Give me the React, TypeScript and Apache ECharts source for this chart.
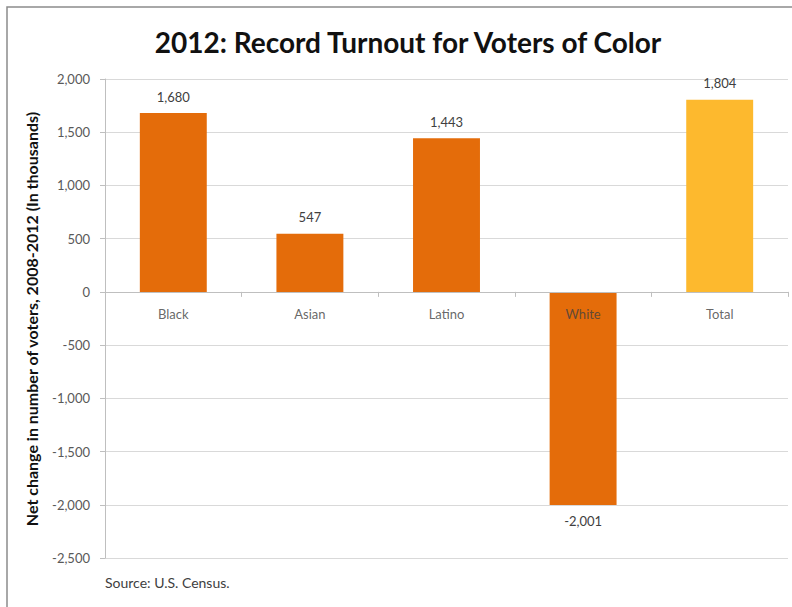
import React, { useEffect, useRef } from "react";
import * as echarts from "echarts";

const categories = ["Black", "Asian", "Latino", "White", "Total"];
const values = [1680, 547, 1443, -2001, 1804];
const barColors = ["#E46C0A", "#E46C0A", "#E46C0A", "#E46C0A", "#FDB92E"];
const titleText = "2012: Record Turnout for Voters of Color";
const yAxisTitle = "Net change in number of voters, 2008-2012 (In thousands)";
const sourceText = "Source: U.S. Census.";

const fmt = (v: number) => v.toLocaleString("en-US");

export default function App() {
  const ref = useRef<HTMLDivElement>(null);
  useEffect(() => {
    if (!ref.current) return;
    const chart = echarts.init(ref.current, null, { renderer: "svg" });
    const font = "Lato, 'Open Sans', sans-serif";
    chart.setOption({
      animation: false,
      backgroundColor: "#ffffff",
      textStyle: { fontFamily: font },
      title: {
        text: titleText,
        left: 403,
        textAlign: "center",
        top: 23,
        textStyle: { fontSize: 28, fontWeight: "bold", color: "#111111", fontFamily: font },
      },
      graphic: [
        {
          type: "rect",
          shape: { x: 7, y: 7, width: 800, height: 620 },
          style: { fill: "none", stroke: "#8c8c8c", lineWidth: 1.5 },
          silent: true,
        },
        {
          type: "text",
          x: 105,
          y: 575,
          style: { text: sourceText, fontSize: 14, fill: "#404040", fontFamily: font },
        },
        {
          type: "text",
          x: 31,
          y: 319,
          rotation: Math.PI / 2,
          style: {
            text: yAxisTitle,
            fontSize: 16,
            fontWeight: "bold",
            fill: "#111111",
            fontFamily: font,
            align: "center",
            verticalAlign: "middle",
          },
        },
      ],
      grid: { left: 105, right: 4, top: 79, bottom: 49, containLabel: false },
      xAxis: {
        type: "category",
        data: categories,
        z: 10,
        axisLine: { onZero: true, lineStyle: { color: "#bfbfbf", width: 1 } },
        axisTick: { show: true, length: 5, lineStyle: { color: "#bfbfbf" } },
        axisLabel: { show: false },
        splitLine: { show: false },
      },
      yAxis: {
        type: "value",
        min: -2500,
        max: 2000,
        interval: 500,
        axisLine: { show: true, lineStyle: { color: "#bfbfbf" } },
        axisTick: { show: true, length: 5, lineStyle: { color: "#bfbfbf" } },
        axisLabel: { color: "#595959", fontSize: 13, margin: 15, formatter: fmt, fontFamily: font },
        splitLine: { show: true, lineStyle: { color: "#d9d9d9", width: 1 } },
      },
      series: [
        {
          type: "bar",
          barWidth: "49%",
          data: values.map((v, i) => ({
            value: v,
            itemStyle: { color: barColors[i] },
            label: { position: v < 0 ? "bottom" : "top" },
          })),
          label: {
            show: true,
            color: "#404040",
            fontSize: 13,
            distance: 10,
            fontFamily: font,
            formatter: (p: any) => fmt(p.value),
          },
        },
        {
          type: "scatter",
          z: 20,
          silent: true,
          symbolSize: 0,
          data: categories.map((c) => [c, 0]),
          label: {
            show: true,
            position: "bottom",
            distance: 16,
            color: "#404040",
            fontSize: 13,
            fontFamily: font,
            formatter: (p: any) => p.value[0],
          },
        },
      ],
    });
    return () => chart.dispose();
  }, []);
  return (
    <div
      ref={ref}
      style={{ position: "fixed", left: 0, top: 0, width: 792, height: 607 }}
    />
  );
}
